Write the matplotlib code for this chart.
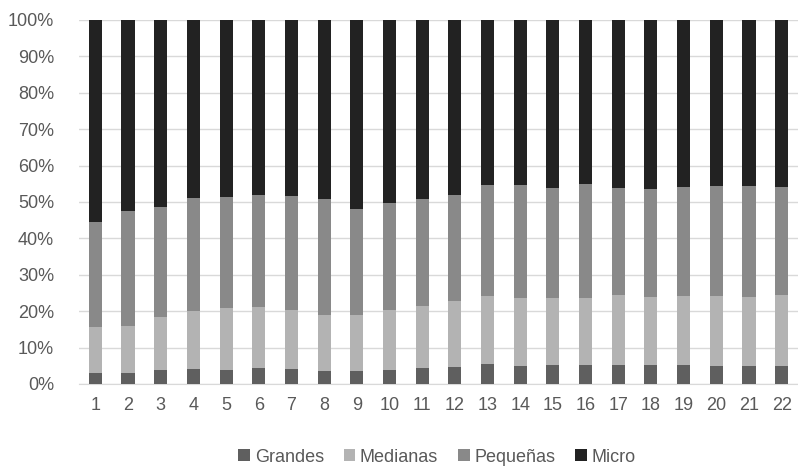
import matplotlib
matplotlib.use("Agg")
import matplotlib.pyplot as plt
import numpy as np

plt.rcParams['font.family'] = ['Liberation Sans', 'DejaVu Sans']

categories = [str(i) for i in range(1, 23)]
# cumulative tops (%)
top_grandes = [3.1, 3.1, 3.8, 4.1, 3.8, 4.3, 4.1, 3.6, 3.6, 3.9, 4.4, 4.8, 5.5, 4.9, 5.3, 5.2, 5.2, 5.2, 5.2, 4.9, 4.9, 4.9]
top_medianas = [15.7, 16.0, 18.4, 20.0, 21.0, 21.2, 20.2, 19.0, 18.9, 20.4, 21.5, 22.8, 24.1, 23.6, 23.6, 23.6, 24.4, 24.0, 24.2, 24.2, 24.0, 24.5]
top_pequenas = [44.5, 47.5, 48.5, 51.1, 51.4, 51.9, 51.6, 50.8, 48.1, 49.6, 50.7, 51.9, 54.7, 54.8, 53.8, 54.9, 53.9, 53.6, 54.2, 54.5, 54.4, 54.2]

grandes = np.array(top_grandes)
medianas = np.array(top_medianas) - np.array(top_grandes)
pequenas = np.array(top_pequenas) - np.array(top_medianas)
micro = 100 - np.array(top_pequenas)

series = [("Grandes", grandes, "#5f5f5f"),
          ("Medianas", medianas, "#b3b3b3"),
          ("Pequeñas", pequenas, "#898989"),
          ("Micro", micro, "#222222")]

fig = plt.figure(figsize=(7.98, 4.68), dpi=100)
ax = fig.add_axes([79/798, 1 - 384/468, (798 - 79)/798, (384 - 20)/468])

x = np.arange(len(categories))
bottom = np.zeros(len(categories))
for name, vals, col in series:
    ax.bar(x, vals, bottom=bottom, width=0.4, color=col, label=name, zorder=3)
    bottom += vals

ax.set_ylim(0, 100)
ax.set_xlim(-0.5, len(categories) - 0.5)
ax.set_yticks(np.arange(0, 101, 10))
ax.set_yticklabels([f"{v}%" for v in range(0, 101, 10)])
ax.set_xticks(x)
ax.set_xticklabels(categories)
ax.yaxis.grid(True, color="#d9d9d9", linewidth=1, zorder=0)
for s in ["top", "right", "left"]:
    ax.spines[s].set_visible(False)
ax.spines["bottom"].set_color("#d9d9d9")
ax.tick_params(axis="both", length=0, labelsize=13, colors="#595959")
ax.tick_params(axis="y", pad=18)
ax.tick_params(axis="x", pad=9)

leg = fig.legend(loc="lower center", bbox_to_anchor=(437/798, -0.03), ncol=4, frameon=False,
                 fontsize=13, handlelength=0.65, handleheight=0.65, handletextpad=0.25,
                 columnspacing=1.1)
for t in leg.get_texts():
    t.set_color("#595959")

fig.savefig("out.png", dpi=100)
